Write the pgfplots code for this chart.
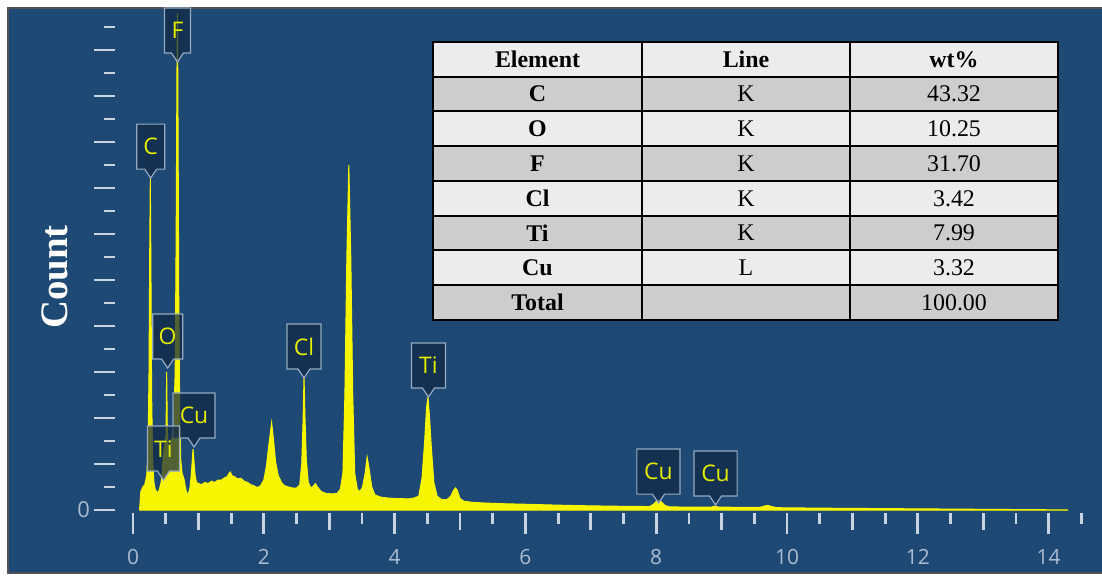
\documentclass[border=0pt]{standalone}
\usepackage{fontspec}
\setmainfont{Liberation Serif}
\newfontfamily\sgfont{Open Sans}
\usepackage{pgfplots}
\pgfplotsset{compat=1.18}
\definecolor{bgblue}{RGB}{31,73,117}
\definecolor{framegray}{RGB}{80,84,90}
\definecolor{spec}{RGB}{248,245,0}
\definecolor{tickcol}{RGB}{200,212,226}
\definecolor{ticklab}{RGB}{170,188,208}
\definecolor{lblfill}{RGB}{18,40,68}
\definecolor{lbledge}{RGB}{150,170,192}
\definecolor{lbltext}{RGB}{228,236,0}
\definecolor{rowlight}{RGB}{236,236,236}
\definecolor{rowgray}{RGB}{205,205,205}
\newcommand{\plabel}[4]{%
  \draw[shift={(axis cs:#1,#2)}, fill=lblfill, fill opacity=0.72, draw=lbledge, line width=0.6bp]
    (0bp,0bp) -- (-3bp,4.5bp) -- (-#3,4.5bp) -- (-#3,27bp) -- (#3,27bp) -- (#3,4.5bp) -- (3bp,4.5bp) -- cycle;
  \node[text=lbltext, font=\sgfont\fontsize{11.5}{13}\selectfont, anchor=center, inner sep=0pt]
    at ([shift={(0bp,15.75bp)}]axis cs:#1,#2) {#4};
}
\begin{document}
\begin{tikzpicture}
\useasboundingbox (0,0) rectangle (551bp,288.5bp);
\fill[white] (0,0) rectangle (551bp,288.5bp);
\fill[bgblue] (4bp,2bp) rectangle (551bp,284.5bp);
\draw[framegray, line width=0.8bp] (551bp,284.5bp) -- (4bp,284.5bp) -- (4bp,2bp) -- (551bp,2bp);
\begin{axis}[
  at={(57.5bp,32bp)}, anchor=south west,
  width=493.5bp, height=252.5bp, scale only axis,
  xmin=-0.27523, xmax=14.8165, ymin=-0.1304, ymax=21.826,
  clip=false,
  axis line style={draw=none},
  tick pos=left, tick align=outside,
  xtick={0,2,...,14},
  minor xtick={0.5,1.5,...,14.5},
  extra x ticks={1,3,...,13},
  extra x tick labels={},
  extra x tick style={major tick length=8.5bp},
  ytick={0,2,...,20},
  minor ytick={1,3,...,21},
  yticklabels={0,{},{},{},{},{},{},{},{},{},{}},
  major tick length=10.5bp, minor tick length=5.5bp,
  every tick/.style={tickcol, line width=1.4bp},
  /pgf/number format/assume math mode=true,
  xticklabel shift=4bp,
  yticklabel shift=-1.5bp,
  xticklabel style={font=\sgfont\fontsize{10.5}{12}\selectfont, text=ticklab},
  yticklabel style={font=\sgfont\fontsize{11}{12}\selectfont, text=ticklab},
  ylabel={Count},
  every axis y label/.style={at={(axis description cs:-0.0608,0.467)}, rotate=90, anchor=center,
    font=\bfseries\fontsize{19.5}{22}\selectfont, text=white},
]
\addplot[draw=spec, fill=spec, line width=0.5bp] coordinates {
(0.10,0) (0.12,0.8) (0.15,1.0) (0.18,1.1) (0.21,1.5) (0.23,2.6) (0.245,6) (0.255,11) (0.265,14.5)
(0.275,10) (0.285,5) (0.30,2.2) (0.32,1.2) (0.34,0.9) (0.37,0.75) (0.40,0.85) (0.43,1.2)
(0.45,1.8) (0.47,2.6) (0.49,2.9) (0.505,3.3) (0.515,6.0) (0.525,3.4) (0.54,2.6) (0.56,2.8)
(0.59,3.0) (0.62,3.6) (0.645,6) (0.66,12) (0.672,19) (0.68,21.6) (0.69,16) (0.70,9) (0.715,4)
(0.73,2.2) (0.75,1.6) (0.78,1.35) (0.80,1.0) (0.82,0.75) (0.845,0.7) (0.87,0.95) (0.89,1.5)
(0.905,2.1) (0.918,2.65) (0.93,2.2) (0.95,1.5) (0.97,1.2) (1.0,1.15) (1.05,1.1) (1.10,1.2)
(1.15,1.15) (1.20,1.25) (1.25,1.2) (1.30,1.3) (1.35,1.3) (1.40,1.4) (1.44,1.45) (1.47,1.6)
(1.49,1.65) (1.51,1.5) (1.55,1.45) (1.60,1.35) (1.65,1.38) (1.70,1.25) (1.75,1.2) (1.80,1.1)
(1.85,1.05) (1.90,0.98) (1.95,1.05) (2.00,1.3) (2.04,1.9) (2.08,2.9) (2.12,3.8) (2.15,3.0)
(2.18,2.1) (2.22,1.5) (2.27,1.2) (2.32,1.05) (2.38,1.0) (2.45,0.95) (2.50,0.95) (2.55,1.1)
(2.58,2.0) (2.60,3.8) (2.615,5.8) (2.63,4.0) (2.65,2.2) (2.68,1.2) (2.72,0.95) (2.76,1.05)
(2.79,1.15) (2.82,1.0) (2.88,0.8) (2.95,0.72) (3.05,0.7) (3.12,0.72) (3.17,0.9) (3.21,1.6)
(3.24,5) (3.27,11) (3.30,15.0) (3.33,11) (3.36,5) (3.39,1.6) (3.43,0.9) (3.47,0.8) (3.51,1.0)
(3.55,1.6) (3.58,2.3) (3.61,1.8) (3.65,1.0) (3.70,0.65) (3.80,0.55) (3.90,0.52) (4.00,0.5)
(4.10,0.5) (4.20,0.48) (4.30,0.52) (4.37,0.6) (4.42,1.4) (4.46,3.0) (4.49,4.5) (4.51,4.9)
(4.53,4.2) (4.56,2.8) (4.60,1.2) (4.65,0.6) (4.72,0.45) (4.80,0.45) (4.86,0.6) (4.90,0.85)
(4.93,0.96) (4.96,0.85) (5.0,0.5) (5.06,0.38) (5.2,0.33) (5.4,0.3) (5.7,0.27) (6.0,0.25)
(6.5,0.21) (7.0,0.18) (7.5,0.16) (7.9,0.15) (7.96,0.25) (8.01,0.4) (8.04,0.44) (8.08,0.35)
(8.13,0.2) (8.2,0.14) (8.5,0.12) (8.85,0.13) (8.9,0.17) (8.95,0.13) (9.3,0.11) (9.6,0.12)
(9.66,0.18) (9.71,0.2) (9.76,0.15) (9.85,0.1) (10.5,0.08) (11.0,0.07) (11.5,0.06) (12.0,0.05)
(12.5,0.04) (13.0,0.03) (13.5,0.02) (14.0,0.01) (14.3,0)
} \closedcycle;
\plabel{0.68}{19.48}{6.5bp}{F}
\plabel{0.27}{14.43}{7bp}{C}
\plabel{0.53}{6.17}{7.5bp}{O}
\plabel{0.933}{2.74}{10.5bp}{Cu}
\plabel{0.466}{1.3}{8bp}{Ti}
\plabel{2.615}{5.74}{8.5bp}{Cl}
\plabel{4.518}{4.91}{8.5bp}{Ti}
\plabel{8.035}{0.30}{10.8bp}{Cu}
\plabel{8.907}{0.22}{10.8bp}{Cu}
\end{axis}
% table
\fill[rowlight] (216.5bp,250.125bp) rectangle (529bp,267.5bp);
\fill[rowgray]  (216.5bp,232.75bp) rectangle (529bp,250.125bp);
\fill[rowlight] (216.5bp,215.375bp) rectangle (529bp,232.75bp);
\fill[rowgray]  (216.5bp,198bp) rectangle (529bp,215.375bp);
\fill[rowlight] (216.5bp,180.625bp) rectangle (529bp,198bp);
\fill[rowgray]  (216.5bp,163.25bp) rectangle (529bp,180.625bp);
\fill[rowlight] (216.5bp,145.875bp) rectangle (529bp,163.25bp);
\fill[rowgray]  (216.5bp,128.5bp) rectangle (529bp,145.875bp);
\begin{scope}[black, line width=1bp]
\draw (216.5bp,128.5bp) rectangle (529bp,267.5bp);
\foreach \yy in {250.125,232.75,215.375,198,180.625,163.25,145.875}
  \draw (216.5bp,\yy bp) -- (529bp,\yy bp);
\draw (321bp,128.5bp) -- (321bp,267.5bp);
\draw (425bp,128.5bp) -- (425bp,267.5bp);
\end{scope}
\begin{scope}[every node/.style={font=\fontsize{12}{14}\selectfont, anchor=center, inner sep=0pt}]
\node[font=\bfseries\fontsize{12}{14}\selectfont] at (268.75bp,258.8125bp) {Element};
\node[font=\bfseries\fontsize{12}{14}\selectfont] at (373bp,258.8125bp) {Line};
\node[font=\bfseries\fontsize{12}{14}\selectfont] at (477bp,258.8125bp) {wt\%};
\node[font=\bfseries\fontsize{12}{14}\selectfont] at (268.75bp,241.4375bp) {C};
\node at (373bp,241.4375bp) {K};
\node at (477bp,241.4375bp) {43.32};
\node[font=\bfseries\fontsize{12}{14}\selectfont] at (268.75bp,224.0625bp) {O};
\node at (373bp,224.0625bp) {K};
\node at (477bp,224.0625bp) {10.25};
\node[font=\bfseries\fontsize{12}{14}\selectfont] at (268.75bp,206.6875bp) {F};
\node at (373bp,206.6875bp) {K};
\node at (477bp,206.6875bp) {31.70};
\node[font=\bfseries\fontsize{12}{14}\selectfont] at (268.75bp,189.3125bp) {Cl};
\node at (373bp,189.3125bp) {K};
\node at (477bp,189.3125bp) {3.42};
\node[font=\bfseries\fontsize{12}{14}\selectfont] at (268.75bp,171.9375bp) {Ti};
\node at (373bp,171.9375bp) {K};
\node at (477bp,171.9375bp) {7.99};
\node[font=\bfseries\fontsize{12}{14}\selectfont] at (268.75bp,154.5625bp) {Cu};
\node at (373bp,154.5625bp) {L};
\node at (477bp,154.5625bp) {3.32};
\node[font=\bfseries\fontsize{12}{14}\selectfont] at (268.75bp,137.1875bp) {Total};
\node at (477bp,137.1875bp) {100.00};
\end{scope}
\end{tikzpicture}
\end{document}
